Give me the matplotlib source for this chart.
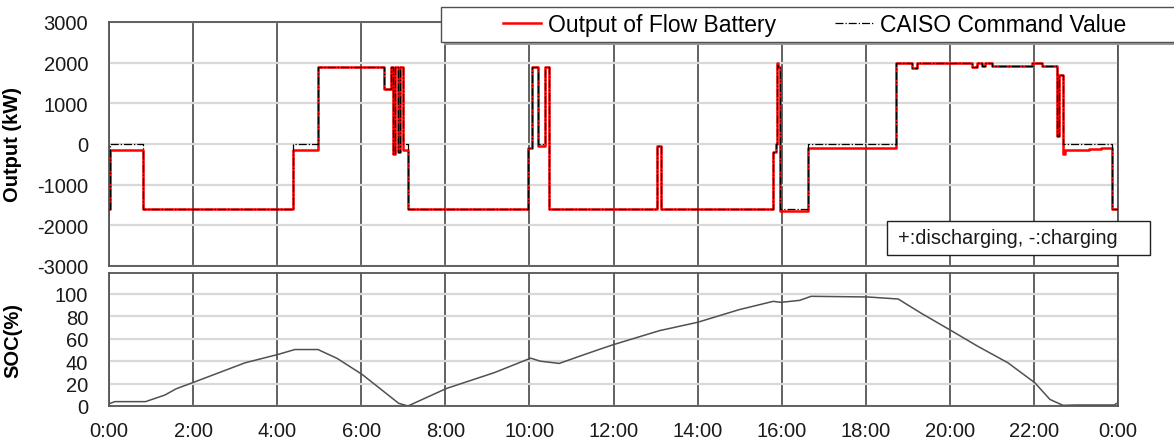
import numpy as np
import matplotlib.pyplot as plt
from matplotlib.patches import Rectangle

plt.rcParams['font.family'] = ['Liberation Sans', 'DejaVu Sans']
plt.rcParams['axes.unicode_minus'] = False

# Step changes of the flow battery output and the CAISO command (hour, kW)
step_hours = [0.00, 0.03, 0.80, 4.38, 4.98, 6.54, 6.70, 6.75, 6.80, 6.87, 6.93, 6.99, 7.12,
              9.96, 10.05, 10.21, 10.37, 10.47, 13.03, 13.13, 15.80, 15.86, 15.88, 15.92, 15.96,
              16.63, 18.72, 19.09, 19.21, 19.60, 20.00, 20.52, 20.64, 20.76, 20.84, 21.00,
              21.95, 22.19, 22.54, 22.60, 22.70, 22.73, 23.30, 23.60, 23.86]
battery_kw = [-1600, -150, -1600, -150, 1900, 1350, 1900, -250, 1900, -200, 1900, -150, -1600,
              -100, 1900, -50, 1900, -1600, -50, -1600, -200, 0, 2000, 1900, -1650,
              -100, 2000, 1880, 1980, 2000, 1990, 1890, 1980, 1920, 2000, 1910,
              2000, 1920, 200, 1700, -250, -150, -120, -100, -1600]
command_kw = [-1600, 0, -1600, 0, 1900, 1350, 1900, -250, 1900, -200, 1900, 0, -1600,
              -100, 1900, 0, 1900, -1600, -50, -1600, -200, 0, 1950, 1900, -1600,
              0, 2000, 1880, 1980, 2000, 1990, 1890, 1980, 1920, 2000, 1910,
              2000, 1920, 200, 1700, 0, 0, 0, 0, -1600]

# State of charge (hour, %)
soc_hours = [0.03, 0.14, 0.87, 1.33, 1.60, 2.03, 3.24, 4.02, 4.42, 4.97, 5.43, 6.02, 6.89, 7.11,
             8.03, 9.16, 10.03, 10.26, 10.71, 11.20, 11.70, 12.01, 13.10, 14.00, 14.99, 15.80,
             15.98, 16.43, 16.70, 18.05, 18.77, 19.31, 19.99, 20.66, 21.38, 22.02, 22.38, 22.69,
             23.00, 23.91, 24.00]
soc_pct = [2.4, 3.9, 3.9, 9.8, 15.4, 21.4, 38.6, 46.0, 50.4, 50.4, 42.4, 28.2, 2.4, 0.0,
           15.7, 29.7, 42.7, 40.0, 38.0, 44.5, 51.0, 54.9, 67.3, 74.7, 86.0, 93.4,
           92.5, 94.3, 97.9, 97.3, 95.5, 83.0, 68.2, 53.4, 38.6, 20.8, 5.9, 0.6,
           0.9, 0.9, 3.0]

hour_ticks = list(range(0, 25, 2))
hour_labels = [f"{h % 24}:00" for h in hour_ticks]

W, H = 1174, 439
fig = plt.figure(figsize=(W / 100, H / 100), dpi=100)


def fig_box(x0, y0, x1, y1):
    # pixel box (top-left origin) -> figure fraction rect
    return [x0 / W, 1 - y1 / H, (x1 - x0) / W, (y1 - y0) / H]


def fig_rect(x0, y0, x1, y1, **kw):
    r = fig_box(x0, y0, x1, y1)
    p = Rectangle((r[0], r[1]), r[2], r[3], transform=fig.transFigure, **kw)
    fig.patches.append(p)
    return p


ax1 = fig.add_axes(fig_box(109, 23, 1118, 267))
ax2 = fig.add_axes(fig_box(109, 274, 1118, 407), sharex=ax1)

vgrid = '#555555'
hgrid = '#d9d9d9'

t = np.array(step_hours + [24.0])
out = np.array(battery_kw + [battery_kw[-1]])
cmd = np.array(command_kw + [command_kw[-1]])
ax1.plot(t, out, drawstyle='steps-post', color='#ff0000', lw=1.8, label='Output of Flow Battery', zorder=3)
ax1.plot(t, cmd, drawstyle='steps-post', color='black', lw=0.9, ls='-.', label='CAISO Command Value', zorder=4)
ax1.set_ylim(-3000, 3000)
ax1.set_yticks(range(-3000, 3001, 1000))
ax1.set_ylabel('Output (kW)', fontsize=14.5, fontweight='bold')

ax2.plot(soc_hours, soc_pct, color='#505050', lw=1.1)
ax2.set_ylim(0, 118.7)
ax2.set_yticks(range(0, 101, 20))
ax2.set_ylabel('SOC(%)', fontsize=14.5, fontweight='bold')

ax1.set_xlim(0, 24)
ax2.set_xticks(hour_ticks)
ax2.set_xticklabels(hour_labels)

for ax in (ax1, ax2):
    ax.set_axisbelow(True)
    ax.grid(axis='x', color=vgrid, lw=1.3)
    ax.grid(axis='y', color=hgrid, lw=1.6)
    ax.tick_params(length=0, labelsize=14.5, colors='#1a1a1a')
    ax.tick_params(axis='y', pad=15)
    ax.tick_params(axis='x', pad=11)
    ax.yaxis.set_label_coords(-0.086, 0.5)
    for s in ax.spines.values():
        s.set_color(vgrid)
        s.set_linewidth(1.3)
ax1.tick_params(axis='x', labelbottom=False)

# legend box with a drop shadow, running off the right edge
fig_rect(444, 11, 1193, 46, fc='#9a9a9a', ec='none', zorder=1)
fig_rect(441, 8, 1190, 43, fc='white', ec='#505050', lw=1, zorder=1.1)
handles, labels = ax1.get_legend_handles_labels()
fig.legend(handles, labels, loc='center left', bbox_to_anchor=(503 / W, 1 - 25.5 / H), ncol=2,
           frameon=False, fontsize=16.5, handlelength=1.65, handletextpad=0.3, columnspacing=2.6,
           borderpad=0, borderaxespad=0)

# sign convention note
fig_rect(887, 222, 1150, 256, fc='white', ec='#202020', lw=1, zorder=1.1)
fig.text(898 / W, 1 - 239 / H, '+:discharging, -:charging', fontsize=14.4, ha='left', va='center', color='#1a1a1a')

fig.savefig('out.png', dpi=100)
